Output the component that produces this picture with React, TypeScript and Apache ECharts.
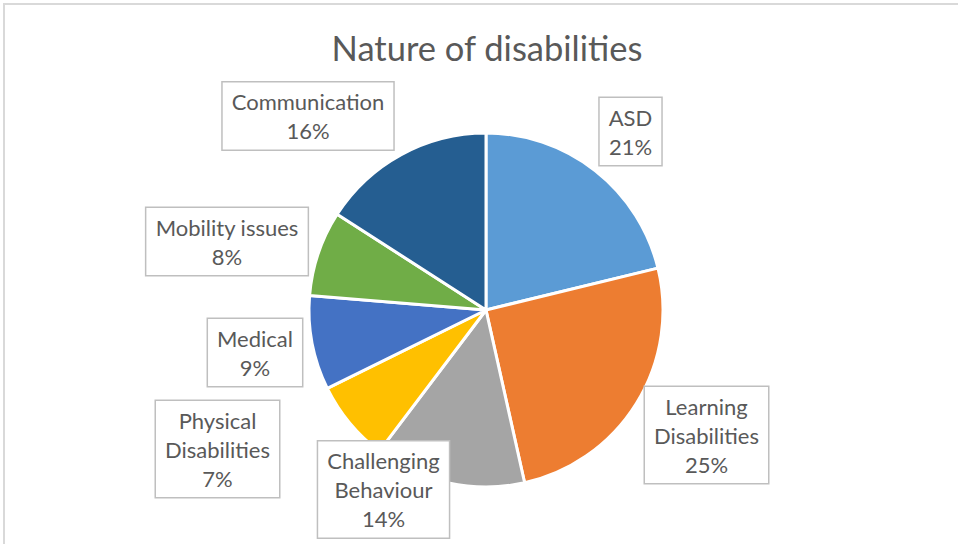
import React, { useEffect, useRef } from "react";
import * as echarts from "echarts";

const titleText = "Nature of disabilities";
const categories = [
  "ASD",
  "Learning Disabilities",
  "Challenging Behaviour",
  "Physical Disabilities",
  "Medical",
  "Mobility issues",
  "Communication",
];
const values = [21.2, 25.3, 13.8, 7.4, 8.6, 7.8, 15.9];
const colors = ["#5B9BD5", "#ED7D31", "#A5A5A5", "#FFC000", "#4472C4", "#70AD47", "#255E91"];
// label box centres (layout only)
const labelCenters: [number, number][] = [
  [630.5, 131.5],
  [706.5, 435],
  [383.5, 489.5],
  [217.5, 449],
  [255, 352.5],
  [227, 241.5],
  [308, 116],
];

export default function App() {
  const ref = useRef<HTMLDivElement>(null);
  useEffect(() => {
    if (!ref.current) return;
    const chart = echarts.init(ref.current, undefined, { renderer: "svg" });
    chart.setOption({
      animation: false,
      backgroundColor: "#ffffff",
      title: {
        text: titleText,
        left: 482,
        top: 25,
        textAlign: "center",
        textStyle: { fontFamily: "Lato", fontSize: 34.5, fontWeight: "normal", color: "#595959" },
      },
      graphic: [
        {
          type: "rect",
          shape: { x: 4, y: 4, width: 1000, height: 600 },
          style: { fill: "none", stroke: "#d9d9d9", lineWidth: 2 },
          silent: true,
          z: -1,
        },
      ],
      series: [
        {
          type: "pie",
          center: [486, 310],
          radius: 177,
          startAngle: 90,
          clockwise: true,
          percentPrecision: 0,
          data: categories.map((c, i) => ({ name: c, value: values[i], itemStyle: { color: colors[i] } })),
          itemStyle: { borderColor: "#ffffff", borderWidth: 3 },
          label: {
            show: true,
            position: "outside",
            formatter: (p: any) => {
              const n = p.name.length > 16 ? p.name.replace(" ", "\n") : p.name;
              return n + "\n" + p.percent + "%";
            },
            fontFamily: "Lato",
            fontSize: 22,
            lineHeight: 29,
            color: "#595959",
            backgroundColor: "#ffffff",
            borderColor: "#bfbfbf",
            borderWidth: 1.5,
            padding: [5, 9, 4, 9],
            align: "center",
          },
          labelLine: { show: false },
          labelLayout: (params: any) => ({
            x: labelCenters[params.dataIndex][0],
            y: labelCenters[params.dataIndex][1],
            align: "center",
            verticalAlign: "middle",
          }),
        },
      ],
    });
    return () => chart.dispose();
  }, []);
  return (
    <div
      ref={ref}
      style={{ position: "absolute", left: 0, top: 0, width: 958, height: 544 }}
    />
  );
}
